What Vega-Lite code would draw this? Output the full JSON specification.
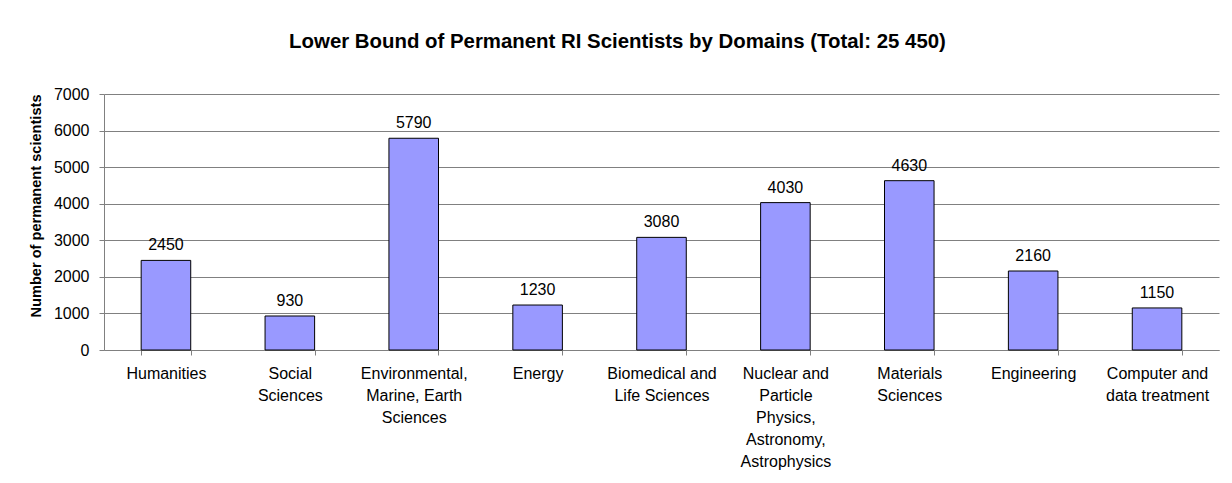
{
  "$schema": "https://vega.github.io/schema/vega-lite/v6.json",
  "width": 1115,
  "height": 256,
  "autosize": {"type": "none"},
  "padding": {"left": 104, "top": 94, "right": 13, "bottom": 133},
  "background": "white",
  "config": {
    "font": "Liberation Sans",
    "view": {"stroke": null},
    "axis": {"labelFont": "Liberation Sans", "titleFont": "Liberation Sans", "labelColor": "black", "titleColor": "black"}
  },
  "title": {
    "text": "Lower Bound of Permanent RI Scientists by Domains (Total: 25 450)",
    "font": "Liberation Sans",
    "fontSize": 20.4,
    "fontWeight": "bold",
    "color": "black",
    "anchor": "middle",
    "frame": "group",
    "baseline": "alphabetic",
    "offset": 18,
    "dx": -44
  },
  "data": {
    "values": [
      {"domain": "Humanities", "scientists": 2450},
      {"domain": "Social Sciences", "scientists": 930},
      {"domain": "Environmental, Marine, Earth Sciences", "scientists": 5790},
      {"domain": "Energy", "scientists": 1230},
      {"domain": "Biomedical and Life Sciences", "scientists": 3080},
      {"domain": "Nuclear and Particle Physics, Astronomy, Astrophysics", "scientists": 4030},
      {"domain": "Materials Sciences", "scientists": 4630},
      {"domain": "Engineering", "scientists": 2160},
      {"domain": "Computer and data treatment", "scientists": 1150}
    ]
  },
  "encoding": {
    "x": {
      "field": "domain",
      "type": "nominal",
      "sort": null,
      "scale": {"paddingInner": 0.6, "paddingOuter": 0.3},
      "axis": {
        "title": null,
        "labelAngle": 0,
        "labelFontSize": 16,
        "labelLineHeight": 22,
        "labelPadding": 10,
        "labelExpr": "({'Social Sciences': ['Social', 'Sciences'], 'Environmental, Marine, Earth Sciences': ['Environmental,', 'Marine, Earth', 'Sciences'], 'Biomedical and Life Sciences': ['Biomedical and', 'Life Sciences'], 'Nuclear and Particle Physics, Astronomy, Astrophysics': ['Nuclear and', 'Particle', 'Physics,', 'Astronomy,', 'Astrophysics'], 'Materials Sciences': ['Materials', 'Sciences'], 'Computer and data treatment': ['Computer and', 'data treatment']})[datum.label] || datum.label",
        "tickBand": "extent",
        "tickSize": 5,
        "tickColor": "#808080",
        "domainColor": "#808080",
        "grid": false,
        "labelLimit": 0
      }
    },
    "y": {
      "field": "scientists",
      "type": "quantitative",
      "scale": {"domain": [0, 7000], "nice": false},
      "axis": {
        "title": "Number of permanent scientists",
        "titleFontSize": 14.6,
        "titleFontWeight": "bold",
        "titleAnchor": "end",
        "titlePadding": 10,
        "values": [0, 1000, 2000, 3000, 4000, 5000, 6000, 7000],
        "format": "d",
        "labelFontSize": 16,
        "labelPadding": 10,
        "tickSize": 5,
        "tickColor": "#808080",
        "domainColor": "#808080",
        "grid": true,
        "gridColor": "#808080",
        "gridOpacity": 1
      }
    }
  },
  "layer": [
    {
      "mark": {"type": "bar", "color": "#9999FF", "stroke": "black", "strokeWidth": 1}
    },
    {
      "mark": {"type": "text", "baseline": "alphabetic", "dy": -10, "fontSize": 16, "font": "Liberation Sans", "color": "black"},
      "encoding": {"text": {"field": "scientists", "type": "quantitative", "format": "d"}}
    }
  ]
}
